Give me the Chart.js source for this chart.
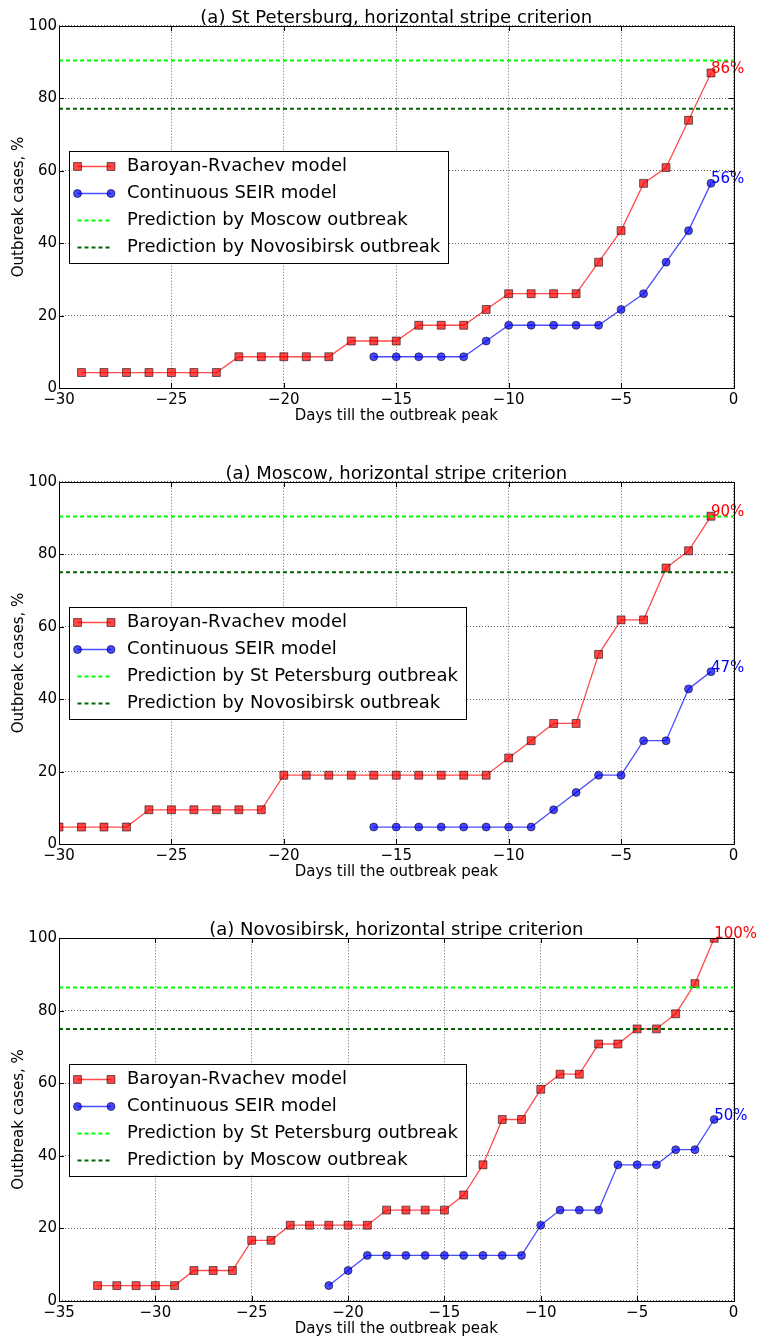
<!DOCTYPE html>
<html><head><meta charset="utf-8">
<script src="https://cdn.jsdelivr.net/npm/chart.js@4.4.0/dist/chart.umd.min.js"></script>
<style>
html,body{margin:0;padding:0;background:#fff;}
#wrap{position:relative;width:757px;height:1340px;background:#fff;}
canvas{position:absolute;left:0;}
</style>
</head><body>
<div id="wrap">
<canvas id="c1" width="757" height="450" style="top:0px"></canvas>
<canvas id="c2" width="757" height="450" style="top:450px"></canvas>
<canvas id="c3" width="757" height="440" style="top:900px"></canvas>
</div>
<script>
// ---------- DATA ----------
const yTickValues = [0, 20, 40, 60, 80, 100];
const seriesLabels = ['Baroyan-Rvachev model', 'Continuous SEIR model'];

// (a) St Petersburg
const spbTitle = '(a) St Petersburg, horizontal stripe criterion';
const spbXRange = [-30, 0];
const spbDaysBR = [-29,-28,-27,-26,-25,-24,-23,-22,-21,-20,-19,-18,-17,-16,-15,-14,-13,-12,-11,-10,-9,-8,-7,-6,-5,-4,-3,-2,-1];
const spbBR = [4.35,4.35,4.35,4.35,4.35,4.35,4.35,8.70,8.70,8.70,8.70,8.70,13.04,13.04,13.04,17.39,17.39,17.39,21.74,26.09,26.09,26.09,26.09,34.78,43.48,56.52,60.87,73.91,86.96];
const spbDaysSEIR = [-16,-15,-14,-13,-12,-11,-10,-9,-8,-7,-6,-5,-4,-3,-2,-1];
const spbSEIR = [8.70,8.70,8.70,8.70,8.70,13.04,17.39,17.39,17.39,17.39,17.39,21.74,26.09,34.78,43.48,56.52];
const spbPredLevels = [90.4, 77.1];
const spbPredLabels = ['Prediction by Moscow outbreak', 'Prediction by Novosibirsk outbreak'];

// (a) Moscow
const mosTitle = '(a) Moscow, horizontal stripe criterion';
const mosXRange = [-30, 0];
const mosDaysBR = [-30,-29,-28,-27,-26,-25,-24,-23,-22,-21,-20,-19,-18,-17,-16,-15,-14,-13,-12,-11,-10,-9,-8,-7,-6,-5,-4,-3,-2,-1];
const mosBR = [4.76,4.76,4.76,4.76,9.52,9.52,9.52,9.52,9.52,9.52,19.05,19.05,19.05,19.05,19.05,19.05,19.05,19.05,19.05,19.05,23.81,28.57,33.33,33.33,52.38,61.90,61.90,76.19,80.95,90.48];
const mosDaysSEIR = [-16,-15,-14,-13,-12,-11,-10,-9,-8,-7,-6,-5,-4,-3,-2,-1];
const mosSEIR = [4.76,4.76,4.76,4.76,4.76,4.76,4.76,4.76,9.52,14.29,19.05,19.05,28.57,28.57,42.86,47.62];
const mosPredLevels = [90.4, 75.0];
const mosPredLabels = ['Prediction by St Petersburg outbreak', 'Prediction by Novosibirsk outbreak'];

// (a) Novosibirsk
const nskTitle = '(a) Novosibirsk, horizontal stripe criterion';
const nskXRange = [-35, 0];
const nskDaysBR = [-33,-32,-31,-30,-29,-28,-27,-26,-25,-24,-23,-22,-21,-20,-19,-18,-17,-16,-15,-14,-13,-12,-11,-10,-9,-8,-7,-6,-5,-4,-3,-2,-1];
const nskBR = [4.17,4.17,4.17,4.17,4.17,8.33,8.33,8.33,16.67,16.67,20.83,20.83,20.83,20.83,20.83,25.00,25.00,25.00,25.00,29.17,37.50,50.00,50.00,58.33,62.50,62.50,70.83,70.83,75.00,75.00,79.17,87.50,100.00];
const nskDaysSEIR = [-21,-20,-19,-18,-17,-16,-15,-14,-13,-12,-11,-10,-9,-8,-7,-6,-5,-4,-3,-2,-1];
const nskSEIR = [4.17,8.33,12.50,12.50,12.50,12.50,12.50,12.50,12.50,12.50,12.50,20.83,25.00,25.00,25.00,37.50,37.50,37.50,41.67,41.67,50.00];
const nskPredLevels = [86.4, 75.0];
const nskPredLabels = ['Prediction by St Petersburg outbreak', 'Prediction by Moscow outbreak'];

// ---------- STYLE ----------
const FONT = '"DejaVu Sans", "Liberation Sans", sans-serif';
const RED_LINE = 'rgba(255,0,0,0.7)';
const RED_FILL = 'rgba(255,0,0,0.72)';
const BLUE_LINE = 'rgba(0,0,255,0.7)';
const BLUE_FILL = 'rgba(0,0,255,0.72)';
const EDGE = 'rgba(0,0,0,0.55)';
const LIME = '#00ff00';
const DARKGREEN = '#006400';

function seriesDataset(label, days, vals, line, fill, style, order) {
  const r = style === 'rect' ? 5.6 : 4;
  return {
    label, order,
    data: days.map((d, i) => ({x: d, y: vals[i]})),
    borderColor: line, backgroundColor: fill,
    pointBackgroundColor: fill, pointBorderColor: EDGE, pointBorderWidth: 1,
    pointStyle: style, pointRadius: r, pointHoverRadius: r,
    borderWidth: 1.3, tension: 0, fill: false, annotate: true
  };
}
function levelDataset(label, level, range, color, order) {
  return {
    label, order,
    data: [{x: range[0], y: level}, {x: range[1], y: level}],
    borderColor: color, backgroundColor: color, borderWidth: 2, borderDash: [4, 3],
    pointRadius: 0, pointHoverRadius: 0, fill: false
  };
}

function px(v) { return Math.round(v) + 0.5; }

const decor = {
  id: 'decor',
  afterDatasetsDraw(chart) {
    const {ctx} = chart;
    const xs = chart.scales.x, ys = chart.scales.y;
    ctx.save();
    ctx.font = '15px ' + FONT;
    ctx.textAlign = 'left';
    ctx.textBaseline = 'alphabetic';
    chart.data.datasets.forEach((d) => {
      if (!d.annotate) return;
      const last = d.data[d.data.length - 1];
      ctx.fillStyle = d.annColor;
      ctx.fillText(Math.floor(last.y + 1e-9) + '%', xs.getPixelForValue(last.x), ys.getPixelForValue(last.y));
    });
    ctx.restore();
  },
  afterDraw(chart) {
    const {ctx, chartArea: a} = chart;
    const xs = chart.scales.x, ys = chart.scales.y;
    const L = Math.round(a.left), R = Math.round(a.right), T = Math.round(a.top), B = Math.round(a.bottom);
    ctx.save();
    ctx.strokeStyle = '#000'; ctx.lineWidth = 1; ctx.setLineDash([]);
    ctx.strokeRect(L + 0.5, T + 0.5, R - L, B - T);
    ctx.beginPath();
    xs.ticks.forEach(t => {
      const p = px(xs.getPixelForValue(t.value));
      ctx.moveTo(p, B); ctx.lineTo(p, B - 5);
      ctx.moveTo(p, T); ctx.lineTo(p, T + 5);
    });
    ys.ticks.forEach(t => {
      const p = px(ys.getPixelForValue(t.value));
      ctx.moveTo(L, p); ctx.lineTo(L + 5, p);
      ctx.moveTo(R, p); ctx.lineTo(R - 5, p);
    });
    ctx.stroke();
    const cfg = chart.options.plugins.decor;
    ctx.fillStyle = '#000';
    ctx.font = '18px ' + FONT;
    ctx.textAlign = 'center'; ctx.textBaseline = 'alphabetic';
    ctx.fillText(cfg.title, (a.left + a.right) / 2, a.top - 3);
    ctx.font = '15px ' + FONT;
    ctx.fillText('Days till the outbreak peak', (a.left + a.right) / 2, a.bottom + 32);
    ctx.save();
    ctx.translate(22.5, (a.top + a.bottom) / 2);
    ctx.rotate(-Math.PI / 2);
    ctx.fillText('Outbreak cases, %', 0, 0);
    ctx.restore();
    // legend
    ctx.font = '18px ' + FONT;
    const items = chart.data.datasets;
    const maxW = Math.max(...items.map(d => ctx.measureText(d.label).width));
    const lx = a.left + 10, h = 112;
    const ly = (a.top + a.bottom) / 2 - h / 2;
    const w = 58 + maxW + 8;
    ctx.fillStyle = '#fff';
    ctx.fillRect(lx, ly, w, h);
    ctx.strokeStyle = '#000'; ctx.lineWidth = 1;
    ctx.strokeRect(px(lx), px(ly), Math.round(w), Math.round(h));
    items.forEach((d, i) => {
      const y = Math.round(ly + 15 + i * 27) + 0.5;
      const x0 = lx + 8.5, x1 = lx + 42;
      ctx.save();
      ctx.strokeStyle = d.borderColor; ctx.lineWidth = d.borderWidth;
      ctx.setLineDash(d.borderDash || []);
      ctx.beginPath(); ctx.moveTo(x0, y); ctx.lineTo(x1, y); ctx.stroke();
      ctx.restore();
      if (d.pointRadius > 0) {
        [x0, x1].forEach(x => {
          ctx.fillStyle = d.pointBackgroundColor;
          ctx.strokeStyle = d.pointBorderColor; ctx.lineWidth = 1;
          ctx.beginPath();
          if (d.pointStyle === 'rect') {
            const s = d.pointRadius * Math.SQRT1_2;
            ctx.rect(x - s, y - s, 2 * s, 2 * s);
          } else {
            ctx.arc(x, y, d.pointRadius, 0, Math.PI * 2);
          }
          ctx.fill(); ctx.stroke();
        });
      }
      ctx.fillStyle = '#000';
      ctx.textAlign = 'left'; ctx.textBaseline = 'middle';
      ctx.fillText(d.label, lx + 58, y);
    });
    ctx.restore();
  }
};

function makeChart(id, title, xRange, daysBR, br, daysSEIR, seir, levels, levelLabels, geom) {
  const dsBR = seriesDataset(seriesLabels[0], daysBR, br, RED_LINE, RED_FILL, 'rect', 4);
  dsBR.annColor = '#ff0000';
  const dsSE = seriesDataset(seriesLabels[1], daysSEIR, seir, BLUE_LINE, BLUE_FILL, 'circle', 3);
  dsSE.annColor = '#0000ff';
  const datasets = [dsBR, dsSE,
    levelDataset(levelLabels[0], levels[0], xRange, LIME, 2),
    levelDataset(levelLabels[1], levels[1], xRange, DARKGREEN, 1)];
  const X_H = 35, Y_W = 59;
  return new Chart(document.getElementById(id), {
    type: 'line',
    data: {datasets},
    options: {
      responsive: false, animation: false, events: [],
      layout: {padding: {left: 0, right: 757 - 733.5, top: geom.top, bottom: geom.h - geom.bottom - X_H}},
      plugins: {legend: {display: false}, tooltip: {enabled: false}, title: {display: false}, decor: {title}},
      scales: {
        x: {
          type: 'linear', min: xRange[0], max: xRange[1],
          afterFit: s => { s.height = X_H; },
          ticks: {stepSize: 5, color: '#000', padding: 3, font: {family: FONT, size: 15},
            callback: v => v < 0 ? '\u2212' + Math.abs(v) : String(v), maxRotation: 0},
          grid: {color: 'rgba(0,0,0,0.6)', lineWidth: 1, drawTicks: false},
          border: {display: false, dash: [1, 2]}
        },
        y: {
          type: 'linear', min: yTickValues[0], max: yTickValues[yTickValues.length - 1],
          afterFit: s => { s.width = Y_W; },
          afterBuildTicks: s => { s.ticks = yTickValues.map(v => ({value: v})); },
          ticks: {color: '#000', padding: 2, font: {family: FONT, size: 15}},
          grid: {color: 'rgba(0,0,0,0.6)', lineWidth: 1, drawTicks: false},
          border: {display: false, dash: [1, 2]}
        }
      }
    },
    plugins: [decor]
  });
}

makeChart('c1', spbTitle, spbXRange, spbDaysBR, spbBR, spbDaysSEIR, spbSEIR, spbPredLevels, spbPredLabels, {top: 25.7, bottom: 388.3, h: 450});
makeChart('c2', mosTitle, mosXRange, mosDaysBR, mosBR, mosDaysSEIR, mosSEIR, mosPredLevels, mosPredLabels, {top: 31.7, bottom: 394.3, h: 450});
makeChart('c3', nskTitle, nskXRange, nskDaysBR, nskBR, nskDaysSEIR, nskSEIR, nskPredLevels, nskPredLabels, {top: 38.3, bottom: 400.7, h: 440});
</script>
</body></html>
